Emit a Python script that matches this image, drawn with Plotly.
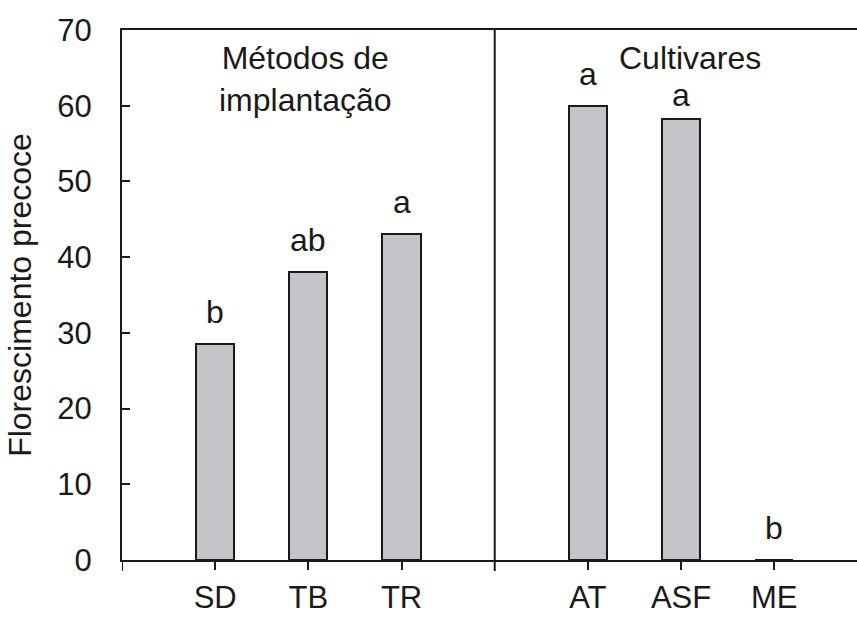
import plotly.graph_objects as go

categories = ["SD", "TB", "TR", "AT", "ASF", "ME"]
x_pos = [1, 2, 3, 5, 6, 7]
values = [28.5, 38.0, 43.0, 60.0, 58.2, 0.0]
letters = ["b", "ab", "a", "a", "a", "b"]
group_titles = ["Métodos de<br>implantação", "Cultivares"]
group_title_x = [1.97, 6.1]
y_ticks = [0, 10, 20, 30, 40, 50, 60, 70]

FONT = "Liberation Sans, Arial, sans-serif"
FS = 32
FS_NUM = 31
INK = "#1a1a1a"

fig = go.Figure()
fig.add_trace(go.Bar(
    x=x_pos, y=values, width=0.41,
    marker=dict(color="#c5c4c8", line=dict(color=INK, width=2)),
    showlegend=False, hoverinfo="skip",
))

label_shift = [12, 12, 12, 12, 4, 12]
for xv, yv, t, s in zip(x_pos, values, letters, label_shift):
    fig.add_annotation(x=xv, y=yv, text=t, showarrow=False, yanchor="bottom",
                       yshift=s, font=dict(family=FONT, size=FS, color=INK))

for xv, t in zip(group_title_x, group_titles):
    fig.add_annotation(x=xv, y=1, yref="paper", text=t, showarrow=False,
                       yanchor="top", yshift=-8, align="center",
                       font=dict(family=FONT, size=FS, color=INK))

ext = -11 / 530
# divider between groups, extends below baseline
fig.add_shape(type="line", x0=4, x1=4, xref="x", y0=ext, y1=1, yref="paper",
              line=dict(color=INK, width=2))
# left axis extension below baseline
fig.add_shape(type="line", x0=0, x1=0, xref="x", y0=ext, y1=0, yref="paper",
              line=dict(color=INK, width=2))

fig.update_layout(
    width=857, height=618,
    margin=dict(l=122, r=0, t=30, b=58),
    plot_bgcolor="white", paper_bgcolor="white",
    font=dict(family=FONT, size=FS, color=INK),
    bargap=0,
    xaxis=dict(range=[0, 7.888], tickvals=x_pos, ticktext=categories,
               ticks="outside", ticklen=8, tickwidth=2, tickcolor=INK,
               showline=True, linecolor=INK, linewidth=2, mirror=True,
               showgrid=False, zeroline=False, fixedrange=True,
               ticklabelstandoff=1, automargin=False,
               tickfont=dict(family=FONT, size=31, color=INK)),
    yaxis=dict(range=[0, 70], tickvals=y_ticks,
               ticks="inside", ticklen=8, tickwidth=2, tickcolor=INK,
               showline=True, linecolor=INK, linewidth=2,
               showgrid=False, zeroline=False, fixedrange=True,
               ticklabelstandoff=22,
               title=dict(text="Florescimento precoce", standoff=16,
                          font=dict(family=FONT, size=FS, color=INK)),
               tickfont=dict(family=FONT, size=FS_NUM, color=INK)),
)

fig.write_html("out.html", config={"displayModeBar": False},
               post_script="document.body.style.margin='0';document.body.style.overflow='hidden';")
